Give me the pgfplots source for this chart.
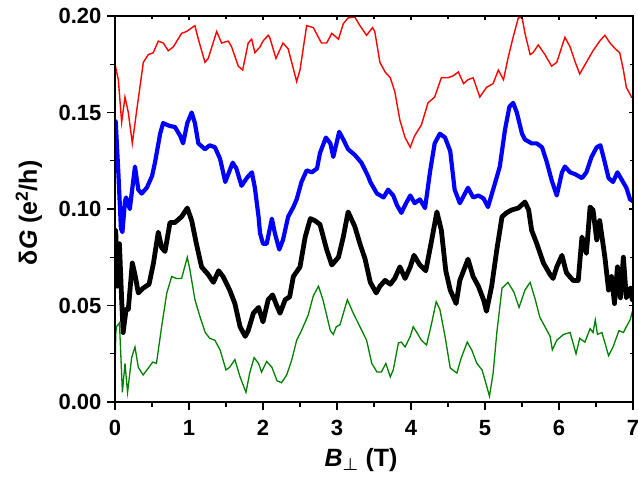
\documentclass[border=0pt]{standalone}
\usepackage{fontspec}
\setmainfont{Liberation Sans}
\usepackage{pgfplots}
\pgfplotsset{compat=1.18}
\definecolor{dgreen}{RGB}{0,128,0}

\begin{document}
\begin{tikzpicture}
\begin{axis}[
    name=ax,
    scale only axis,
    width=518pt, height=386pt,
    xmin=0, xmax=7, ymin=0, ymax=0.2,
    xtick={0,1,...,7}, minor x tick num=1,
    ytick={0,0.05,...,0.2}, minor y tick num=1,
    xtick pos=bottom, ytick pos=left,
    tick align=outside,
    major tick length=8pt, minor tick length=5pt,
    axis line style={line width=1.4pt},
    every tick/.style={line width=1.4pt, black},
    tick label style={font=\bfseries\fontsize{22}{22}\selectfont},
    /pgf/number format/assume math mode=true,
    xticklabel style={yshift=-7pt},
    yticklabel style={xshift=-2pt, /pgf/number format/.cd, fixed, fixed zerofill, precision=2},
    xlabel={\textbf{\textit{B}{\boldmath$_{\perp}$} (T)}},
    ylabel={\textbf{δ\textit{G} (e\textsuperscript{2}/h)}},
    label style={font=\bfseries\fontsize{25}{25}\selectfont},
    xlabel style={at={(axis description cs:0.475,-0.168)}, anchor=base},
    ylabel style={at={(axis description cs:-0.1506,0.49)}, anchor=base},
    clip=true,
]
% red
\addplot[color=red, line width=1.4pt] coordinates {
(0,0.175)(0.045,0.167)(0.09,0.145)(0.135,0.158)(0.18,0.150)(0.234,0.134)(0.293,0.151)(0.383,0.176)(0.45,0.180)(0.518,0.181)(0.585,0.187)(0.653,0.186)(0.72,0.182)(0.788,0.184)(0.90,0.191)(0.968,0.192)(1.08,0.195)(1.126,0.188)(1.216,0.176)(1.26,0.178)(1.374,0.192)(1.44,0.186)(1.53,0.187)(1.576,0.184)(1.666,0.174)(1.725,0.172)(1.80,0.186)(1.847,0.188)(1.89,0.181)(1.96,0.184)(2.0,0.187)(2.07,0.190)(2.09,0.189)(2.175,0.178)(2.27,0.186)(2.34,0.183)(2.455,0.166)(2.5,0.172)(2.59,0.195)(2.68,0.194)(2.79,0.186)(2.86,0.186)(2.93,0.191)(3.02,0.188)(3.085,0.196)(3.15,0.199)(3.24,0.1995)(3.31,0.195)(3.40,0.190)(3.48,0.194)(3.51,0.192)(3.58,0.176)(3.65,0.171)(3.72,0.168)(3.78,0.161)(3.85,0.146)(3.92,0.137)(3.99,0.132)(4.05,0.138)(4.14,0.1435)(4.23,0.155)(4.32,0.158)(4.41,0.168)(4.50,0.168)(4.57,0.169)(4.64,0.171)(4.71,0.165)(4.77,0.167)(4.84,0.168)(4.93,0.158)(5.02,0.163)(5.11,0.165)(5.18,0.172)(5.25,0.167)(5.31,0.178)(5.38,0.189)(5.45,0.199)(5.50,0.1995)(5.54,0.191)(5.61,0.180)(5.65,0.181)(5.72,0.185)(5.81,0.180)(5.90,0.174)(5.97,0.176)(6.08,0.189)(6.15,0.184)(6.22,0.176)(6.28,0.170)(6.37,0.176)(6.46,0.182)(6.55,0.187)(6.62,0.190)(6.69,0.186)(6.76,0.183)(6.82,0.181)(6.87,0.172)(6.91,0.163)(6.98,0.158)(7.0,0.158)
};
% blue
\addplot[color=blue, line width=4.2pt, line join=round] coordinates {
(0,0.146)(0.01,0.145)(0.045,0.119)(0.08,0.090)(0.10,0.088)(0.135,0.104)(0.15,0.106)(0.2,0.100)(0.27,0.122)(0.315,0.110)(0.36,0.108)(0.43,0.111)(0.50,0.117)(0.54,0.124)(0.61,0.139)(0.65,0.1445)(0.74,0.143)(0.81,0.1425)(0.88,0.138)(0.92,0.134)(0.977,0.1445)(1.036,0.150)(1.08,0.1445)(1.126,0.134)(1.216,0.131)(1.28,0.133)(1.35,0.132)(1.42,0.126)(1.49,0.114)(1.53,0.118)(1.59,0.124)(1.64,0.121)(1.71,0.112)(1.78,0.116)(1.85,0.119)(1.89,0.111)(1.94,0.096)(1.96,0.0875)(2.0,0.082)(2.05,0.082)(2.12,0.095)(2.16,0.0875)(2.22,0.079)(2.27,0.084)(2.34,0.096)(2.41,0.101)(2.455,0.105)(2.52,0.114)(2.59,0.120)(2.66,0.119)(2.73,0.121)(2.77,0.129)(2.85,0.137)(2.91,0.134)(2.95,0.127)(3.03,0.140)(3.085,0.136)(3.15,0.131)(3.24,0.128)(3.33,0.124)(3.42,0.117)(3.45,0.114)(3.54,0.108)(3.63,0.106)(3.69,0.110)(3.76,0.107)(3.81,0.102)(3.87,0.098)(3.92,0.102)(3.99,0.107)(4.05,0.103)(4.12,0.105)(4.19,0.1005)(4.26,0.120)(4.32,0.134)(4.39,0.139)(4.46,0.137)(4.53,0.130)(4.59,0.110)(4.66,0.103)(4.77,0.111)(4.84,0.106)(4.91,0.107)(4.98,0.1055)(5.04,0.101)(5.14,0.114)(5.20,0.122)(5.27,0.141)(5.33,0.153)(5.38,0.155)(5.43,0.150)(5.50,0.139)(5.54,0.136)(5.63,0.134)(5.70,0.134)(5.77,0.132)(5.83,0.125)(5.90,0.115)(5.97,0.107)(6.04,0.119)(6.08,0.122)(6.15,0.119)(6.22,0.118)(6.31,0.116)(6.37,0.119)(6.44,0.127)(6.51,0.132)(6.56,0.133)(6.62,0.124)(6.67,0.116)(6.73,0.114)(6.79,0.119)(6.85,0.115)(6.91,0.111)(6.96,0.105)(7.0,0.104)
};
% black
\addplot[color=black, line width=4.8pt, line join=round] coordinates {
(0,0.088)(0.01,0.089)(0.03,0.060)(0.06,0.082)(0.09,0.053)(0.11,0.036)(0.15,0.048)(0.18,0.048)(0.234,0.072)(0.27,0.066)(0.315,0.0565)(0.38,0.059)(0.46,0.061)(0.52,0.072)(0.585,0.088)(0.63,0.080)(0.676,0.078)(0.743,0.093)(0.81,0.093)(0.90,0.096)(0.977,0.1005)(1.036,0.094)(1.10,0.082)(1.17,0.070)(1.26,0.066)(1.33,0.062)(1.40,0.068)(1.46,0.065)(1.55,0.058)(1.62,0.051)(1.69,0.039)(1.76,0.034)(1.80,0.037)(1.87,0.046)(1.94,0.049)(2.0,0.0415)(2.07,0.053)(2.13,0.0555)(2.175,0.051)(2.23,0.046)(2.30,0.053)(2.36,0.0545)(2.41,0.065)(2.5,0.070)(2.57,0.0855)(2.64,0.095)(2.70,0.094)(2.77,0.092)(2.86,0.079)(2.93,0.071)(3.02,0.075)(3.085,0.0855)(3.15,0.0985)(3.24,0.091)(3.31,0.082)(3.38,0.074)(3.45,0.062)(3.53,0.0565)(3.58,0.060)(3.65,0.063)(3.72,0.061)(3.78,0.064)(3.85,0.070)(3.92,0.064)(3.99,0.070)(4.04,0.076)(4.12,0.071)(4.20,0.068)(4.28,0.084)(4.35,0.0985)(4.41,0.089)(4.47,0.068)(4.53,0.058)(4.61,0.051)(4.66,0.063)(4.77,0.074)(4.84,0.065)(4.91,0.060)(4.98,0.053)(5.02,0.047)(5.09,0.060)(5.16,0.079)(5.23,0.096)(5.29,0.098)(5.36,0.0995)(5.45,0.1005)(5.54,0.1036)(5.59,0.0995)(5.63,0.089)(5.70,0.082)(5.79,0.072)(5.88,0.066)(5.92,0.064)(5.97,0.070)(6.04,0.076)(6.10,0.067)(6.19,0.063)(6.26,0.063)(6.31,0.0855)(6.37,0.077)(6.42,0.101)(6.46,0.0995)(6.51,0.084)(6.55,0.094)(6.62,0.075)(6.67,0.058)(6.71,0.065)(6.75,0.051)(6.79,0.070)(6.83,0.054)(6.87,0.075)(6.91,0.054)(6.96,0.059)(6.99,0.053)(7.0,0.060)
};
% green
\addplot[color=dgreen, line width=1.3pt] coordinates {
(0,0.015)(0.01,0.035)(0.02,0.039)(0.06,0.041)(0.10,0.005)(0.135,0.020)(0.17,0.005)(0.225,0.023)(0.27,0.0285)(0.315,0.018)(0.38,0.014)(0.45,0.0176)(0.51,0.0207)(0.56,0.020)(0.63,0.039)(0.70,0.0565)(0.766,0.065)(0.83,0.064)(0.90,0.064)(0.977,0.075)(1.01,0.069)(1.08,0.053)(1.15,0.044)(1.22,0.036)(1.28,0.033)(1.35,0.032)(1.42,0.027)(1.50,0.0166)(1.55,0.018)(1.62,0.022)(1.69,0.013)(1.77,0.005)(1.82,0.015)(1.88,0.023)(1.94,0.020)(1.98,0.0155)(2.05,0.021)(2.12,0.018)(2.19,0.011)(2.25,0.010)(2.32,0.014)(2.39,0.022)(2.455,0.032)(2.52,0.037)(2.61,0.045)(2.68,0.055)(2.75,0.060)(2.81,0.053)(2.91,0.037)(2.95,0.035)(2.99,0.039)(3.04,0.040)(3.14,0.053)(3.22,0.046)(3.31,0.039)(3.40,0.032)(3.47,0.020)(3.54,0.0155)(3.60,0.0155)(3.66,0.020)(3.72,0.013)(3.76,0.0166)(3.83,0.0306)(3.87,0.031)(3.92,0.0285)(3.99,0.034)(4.03,0.039)(4.08,0.036)(4.14,0.032)(4.21,0.0295)(4.28,0.041)(4.34,0.052)(4.39,0.048)(4.46,0.034)(4.53,0.0176)(4.62,0.015)(4.68,0.023)(4.76,0.031)(4.82,0.027)(4.89,0.020)(4.96,0.0166)(5.01,0.010)(5.06,0.003)(5.11,0.015)(5.16,0.036)(5.23,0.059)(5.31,0.062)(5.39,0.057)(5.46,0.049)(5.54,0.058)(5.61,0.062)(5.68,0.053)(5.74,0.044)(5.81,0.039)(5.88,0.034)(5.91,0.027)(5.97,0.032)(6.06,0.035)(6.15,0.036)(6.23,0.025)(6.28,0.033)(6.35,0.031)(6.42,0.038)(6.46,0.036)(6.49,0.0425)(6.52,0.035)(6.58,0.036)(6.67,0.024)(6.73,0.0285)(6.81,0.037)(6.87,0.036)(6.91,0.039)(6.96,0.0425)(7.0,0.048)
};
\end{axis}
% inward ticks on top and right
\begin{axis}[
    scale only axis,
    width=518pt, height=386pt,
    xmin=0, xmax=7, ymin=0, ymax=0.2,
    xtick={0,1,...,7}, minor x tick num=1,
    ytick={0,0.05,...,0.2}, minor y tick num=1,
    xtick pos=top, ytick pos=right,
    tick align=inside,
    major tick length=4pt, minor tick length=3pt,
    axis line style={line width=1.4pt},
    every tick/.style={line width=1.2pt, black},
    xticklabels={}, yticklabels={},
]
\end{axis}
\pgfresetboundingbox
\path ([xshift=-115pt,yshift=-79pt]ax.south west) rectangle ([xshift=5pt,yshift=16pt]ax.north east);
\end{tikzpicture}
\end{document}
